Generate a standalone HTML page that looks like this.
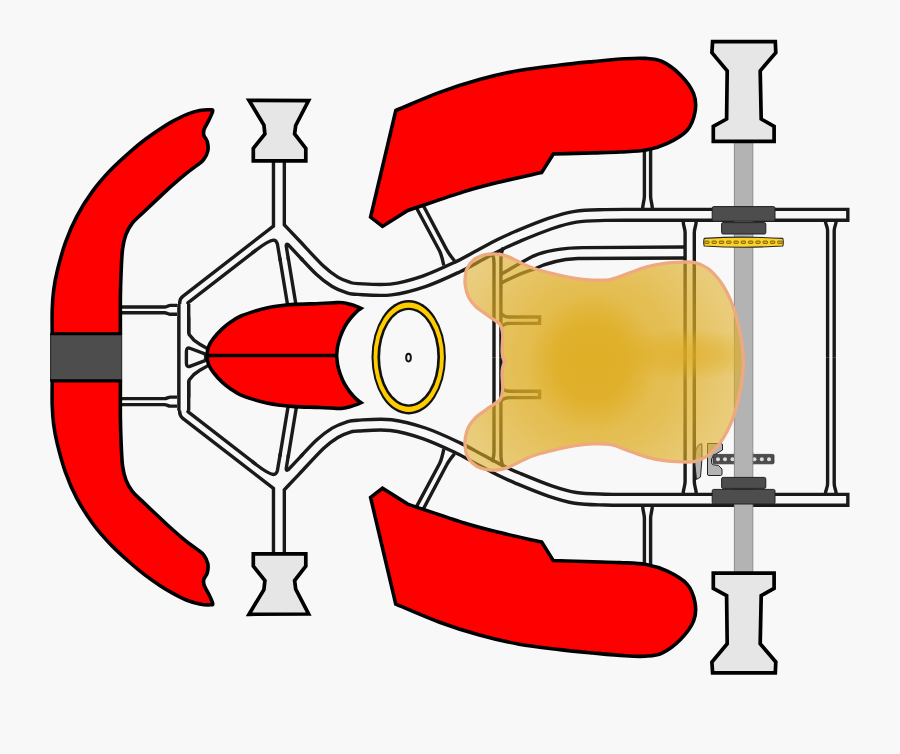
<!DOCTYPE html><html><head><meta charset="utf-8"><style>html,body{margin:0;padding:0;background:#f8f8f8;}svg{display:block}</style></head><body><svg width="900" height="754" viewBox="0 0 900 754"><rect width="900" height="754" fill="#f8f8f8"/><defs><radialGradient id="sg0" gradientUnits="userSpaceOnUse" cx="595" cy="362" r="165"><stop offset="0" stop-color="#dfae25" stop-opacity="0.82"/><stop offset="0.48" stop-color="#dfae25" stop-opacity="0.78"/><stop offset="0.85" stop-color="#dfae25" stop-opacity="0.6"/><stop offset="1" stop-color="#dfae25" stop-opacity="0.55"/></radialGradient><radialGradient id="sg1" gradientUnits="userSpaceOnUse" cx="592" cy="362.5" r="70" gradientTransform="translate(592 362.5) scale(1 1.08) translate(-592 -362.5)"><stop offset="0" stop-color="#dfae25" stop-opacity="0.94"/><stop offset="0.5" stop-color="#dfae25" stop-opacity="0.83"/><stop offset="0.74" stop-color="#dfae25" stop-opacity="0.4"/><stop offset="0.93" stop-color="#dfae25" stop-opacity="0.05"/><stop offset="1" stop-color="#dfae25" stop-opacity="0"/></radialGradient><radialGradient id="sg2" gradientUnits="userSpaceOnUse" cx="684" cy="354.5" r="78" gradientTransform="translate(684 354.5) scale(1 0.34) translate(-684 -354.5)"><stop offset="0" stop-color="#dfae25" stop-opacity="0.66"/><stop offset="0.5" stop-color="#dfae25" stop-opacity="0.42"/><stop offset="1" stop-color="#dfae25" stop-opacity="0"/></radialGradient></defs><g fill="none" stroke="#1a1a1a" stroke-linejoin="miter" stroke-miterlimit="10" stroke-linecap="square"><path d="M278.9,158 L278.9,227.2 L185.35,299.6 A4,4 0 0 0 183.8,302.76 L183.8,308" stroke-width="11.7"/><path d="M278.9,158 L278.90,227.00C284.27,232.67 288.15,236.78 295.00,244.00C301.85,251.22 313.33,264.00 320.00,270.30C326.67,276.60 330.33,278.95 335.00,281.80C339.67,284.65 344.17,286.20 348.00,287.40C351.83,288.60 350.83,288.65 358.00,289.00C365.17,289.35 379.93,290.80 391.00,289.50C402.07,288.20 413.27,284.98 424.40,281.20C435.53,277.42 448.53,271.17 457.80,266.80C467.07,262.43 472.97,258.73 480.00,255.00C487.03,251.27 493.70,247.52 500.00,244.40C506.30,241.28 509.47,239.77 517.80,236.30C526.13,232.83 540.37,226.87 550.00,223.60C559.63,220.33 566.43,218.13 575.60,216.70C584.77,215.27 594.27,215.32 605.00,215.00C615.73,214.68 628.33,214.87 640.00,214.80L842.40,214.80" stroke-width="14.25"/><path d="M278.9,227 L291.8,305" stroke-width="11.7"/><g transform="matrix(1 0 0 -1 0 714.60)"><path d="M278.9,158 L278.9,227.2 L185.35,299.6 A4,4 0 0 0 183.8,302.76 L183.8,308" stroke-width="11.7"/><path d="M278.9,158 L278.90,227.00C284.27,232.67 288.15,236.78 295.00,244.00C301.85,251.22 313.33,264.00 320.00,270.30C326.67,276.60 330.33,278.95 335.00,281.80C339.67,284.65 344.17,286.20 348.00,287.40C351.83,288.60 350.83,288.65 358.00,289.00C365.17,289.35 379.93,290.80 391.00,289.50C402.07,288.20 413.27,284.98 424.40,281.20C435.53,277.42 448.53,271.17 457.80,266.80C467.07,262.43 472.97,258.73 480.00,255.00C487.03,251.27 493.70,247.52 500.00,244.40C506.30,241.28 509.47,239.77 517.80,236.30C526.13,232.83 540.37,226.87 550.00,223.60C559.63,220.33 566.43,218.13 575.60,216.70C584.77,215.27 594.27,215.32 605.00,215.00C615.73,214.68 628.33,214.87 640.00,214.80L842.40,214.80" stroke-width="14.25"/><path d="M278.9,227 L291.8,305" stroke-width="11.7"/></g></g><g fill="none" stroke="#1a1a1a"><path d="M183.8,304 L183.8,357.3" stroke-width="13.2"/><g transform="matrix(1 0 0 -1 0 714.60)"><path d="M183.8,304 L183.8,357.3" stroke-width="13.2"/></g></g><path d="M181.00,318.00 L187.00,318.00 L187.00,333.00 L187.70,335.60 L189.50,337.60 L192.90,341.50 L199.00,345.80 L205.90,349.70 L210.00,352.00 L210.00,357.30 L210.00,362.60 L205.90,364.90 L199.00,368.80 L192.90,373.10 L189.50,377.00 L187.70,379.00 L187.00,381.60 L187.00,396.60 L181.00,396.60Z" fill="#1a1a1a" stroke="#1a1a1a" stroke-width="6.8" stroke-linejoin="round"/><g fill="none" stroke="#f8f8f8" stroke-linejoin="miter" stroke-miterlimit="10" stroke-linecap="square"><path d="M278.9,158 L278.9,227.2 L185.35,299.6 A4,4 0 0 0 183.8,302.76 L183.8,308" stroke-width="4.9"/><path d="M278.9,158 L278.90,227.00C284.27,232.67 288.15,236.78 295.00,244.00C301.85,251.22 313.33,264.00 320.00,270.30C326.67,276.60 330.33,278.95 335.00,281.80C339.67,284.65 344.17,286.20 348.00,287.40C351.83,288.60 350.83,288.65 358.00,289.00C365.17,289.35 379.93,290.80 391.00,289.50C402.07,288.20 413.27,284.98 424.40,281.20C435.53,277.42 448.53,271.17 457.80,266.80C467.07,262.43 472.97,258.73 480.00,255.00C487.03,251.27 493.70,247.52 500.00,244.40C506.30,241.28 509.47,239.77 517.80,236.30C526.13,232.83 540.37,226.87 550.00,223.60C559.63,220.33 566.43,218.13 575.60,216.70C584.77,215.27 594.27,215.32 605.00,215.00C615.73,214.68 628.33,214.87 640.00,214.80L842.40,214.80" stroke-width="7.45"/><path d="M278.9,227 L291.8,305" stroke-width="4.9"/><g transform="matrix(1 0 0 -1 0 714.60)"><path d="M278.9,158 L278.9,227.2 L185.35,299.6 A4,4 0 0 0 183.8,302.76 L183.8,308" stroke-width="4.9"/><path d="M278.9,158 L278.90,227.00C284.27,232.67 288.15,236.78 295.00,244.00C301.85,251.22 313.33,264.00 320.00,270.30C326.67,276.60 330.33,278.95 335.00,281.80C339.67,284.65 344.17,286.20 348.00,287.40C351.83,288.60 350.83,288.65 358.00,289.00C365.17,289.35 379.93,290.80 391.00,289.50C402.07,288.20 413.27,284.98 424.40,281.20C435.53,277.42 448.53,271.17 457.80,266.80C467.07,262.43 472.97,258.73 480.00,255.00C487.03,251.27 493.70,247.52 500.00,244.40C506.30,241.28 509.47,239.77 517.80,236.30C526.13,232.83 540.37,226.87 550.00,223.60C559.63,220.33 566.43,218.13 575.60,216.70C584.77,215.27 594.27,215.32 605.00,215.00C615.73,214.68 628.33,214.87 640.00,214.80L842.40,214.80" stroke-width="7.45"/><path d="M278.9,227 L291.8,305" stroke-width="4.9"/></g></g><g fill="none" stroke="#f8f8f8"><path d="M183.8,304 L183.8,357.3" stroke-width="6.4"/><g transform="matrix(1 0 0 -1 0 714.60)"><path d="M183.8,304 L183.8,357.3" stroke-width="6.4"/></g></g><path d="M181.00,318.00 L187.00,318.00 L187.00,333.00 L187.70,335.60 L189.50,337.60 L192.90,341.50 L199.00,345.80 L205.90,349.70 L210.00,352.00 L210.00,357.30 L210.00,362.60 L205.90,364.90 L199.00,368.80 L192.90,373.10 L189.50,377.00 L187.70,379.00 L187.00,381.60 L187.00,396.60 L181.00,396.60Z" fill="#f8f8f8"/><g fill="none" stroke="#f8f8f8" stroke-width="5.2" stroke-linejoin="miter" stroke-miterlimit="10"><path d="M256,250.1 L275.95,234.7 L279.8,258" /><path d="M288,257 L285.55,242 L300.5,257.9" /><g transform="matrix(1 0 0 -1 0 714.60)"><path d="M256,250.1 L275.95,234.7 L279.8,258" /><path d="M288,257 L285.55,242 L300.5,257.9" /></g></g><g fill="none" stroke="#1a1a1a" stroke-width="3.4"><path d="M252,253.2 L256,250.1 C264,244 269.5,240.3 273.4,240.1 C275.8,240.0 276.8,241.8 277.4,244.0 L280.3,261" /><path d="M288.5,260 L286.3,246.5 C285.9,243.8 287.6,243.3 289.8,246.5 L303,260.5" /><g transform="matrix(1 0 0 -1 0 714.60)"><path d="M252,253.2 L256,250.1 C264,244 269.5,240.3 273.4,240.1 C275.8,240.0 276.8,241.8 277.4,244.0 L280.3,261" /><path d="M288.5,260 L286.3,246.5 C285.9,243.8 287.6,243.3 289.8,246.5 L303,260.5" /></g></g><path d="M190.5,348.5 L205.0,354.0 Q207.0,357.3 205.0,360.6 L190.5,366.1 Q186.4,367.7 186.4,363.3 L186.4,351.3 Q186.4,346.9 190.5,348.5Z" fill="#f8f8f8" stroke="#1a1a1a" stroke-width="3.4"/><g fill="none" stroke="#1a1a1a" stroke-width="3.4"><path d="M416,207 L439.6,251.0 C441.5,255 442.5,259 443.8,265.5"/><path d="M422.5,204 L446.6,249.6 C448.5,253.5 451,256.5 454.5,260.8"/><path d="M644.4,148 L644.4,196 C644.4,201 642.6,204 642.6,209.5"/><path d="M650.6,148 L650.6,196 C650.6,201 652.4,204 652.4,209.5"/><path d="M825.4,220.5 C825.4,225 827.6,226 827.6,231 L827.6,357.3"/><path d="M836.2,220.5 C836.2,225 834.2,226 834.2,231 L834.2,357.3"/><path d="M683.2,221 C683.2,226 685.1,228 685.1,233 L685.1,357.3"/><path d="M696.2,221 C696.2,226 694.3,228 694.3,233 L694.3,357.3"/><path d="M491.6,252.8 C493.8,256 494.0,258 494.0,263 L494.0,357.3"/><path d="M503.2,247.8 C501.2,252 500.9,255 500.9,261 L500.9,357.3"/><path d="M500.9,313.8 C503.5,316.2 505.5,317.0 509,317.0 L539.6,317.0 L539.6,323.4 L509,323.4 C505.5,323.4 503.5,324.4 500.9,326.8"/><g transform="matrix(1 0 0 -1 0 714.60)"><path d="M416,207 L439.6,251.0 C441.5,255 442.5,259 443.8,265.5"/><path d="M422.5,204 L446.6,249.6 C448.5,253.5 451,256.5 454.5,260.8"/><path d="M644.4,148 L644.4,196 C644.4,201 642.6,204 642.6,209.5"/><path d="M650.6,148 L650.6,196 C650.6,201 652.4,204 652.4,209.5"/><path d="M825.4,220.5 C825.4,225 827.6,226 827.6,231 L827.6,357.3"/><path d="M836.2,220.5 C836.2,225 834.2,226 834.2,231 L834.2,357.3"/><path d="M683.2,221 C683.2,226 685.1,228 685.1,233 L685.1,357.3"/><path d="M696.2,221 C696.2,226 694.3,228 694.3,233 L694.3,357.3"/><path d="M491.6,252.8 C493.8,256 494.0,258 494.0,263 L494.0,357.3"/><path d="M503.2,247.8 C501.2,252 500.9,255 500.9,261 L500.9,357.3"/><path d="M500.9,313.8 C503.5,316.2 505.5,317.0 509,317.0 L539.6,317.0 L539.6,323.4 L509,323.4 C505.5,323.4 503.5,324.4 500.9,326.8"/></g><path d="M119,307.0 L164.5,307.0 C167,307.0 168,305.4 170.5,305.4 L177.0,305.4"/><path d="M119,312.8 L164.5,312.8 C167,312.8 168,314.3 170.5,314.3 L177.0,314.3"/><path d="M119,404.6 L164.5,404.6 C167,404.6 168,406.1 170.5,406.1 L177.0,406.1"/><path d="M119,398.6 L164.5,398.6 C167,398.6 168,397.1 170.5,397.1 L177.0,397.1"/><path d="M500.9,274.4 C512,268 522,262 533.3,256.1 C545,250.6 560,248.0 583.3,247.6 L684.6,247.0"/><path d="M500.9,283.2 C513,277 524,272 533.3,269.4 C545,263.5 560,259.3 577.8,258.5 L684.6,258.0"/></g><rect x="734.4" y="140" width="18.4" height="435" fill="#b3b3b3" stroke="#8c8c8c" stroke-width="1"/><path d="M52.20,334.00C52.20,325.93 51.95,317.15 52.20,309.80C52.45,302.45 52.82,296.53 53.70,289.90C54.58,283.27 55.53,277.93 57.50,270.00C59.47,262.07 62.32,251.17 65.50,242.30C68.68,233.43 72.10,225.28 76.60,216.80C81.10,208.32 86.67,199.35 92.50,191.40C98.33,183.45 104.80,176.15 111.60,169.10C118.40,162.05 127.48,154.20 133.30,149.10C139.12,144.00 142.08,141.82 146.50,138.50C150.92,135.18 155.38,132.08 159.80,129.20C164.22,126.32 168.58,123.63 173.00,121.20C177.42,118.77 181.87,116.37 186.30,114.60C190.73,112.83 195.57,111.40 199.60,110.60C203.63,109.80 208.33,109.65 210.50,109.80C212.67,109.95 212.98,109.55 212.60,111.50C212.22,113.45 209.60,118.55 208.20,121.50C206.80,124.45 204.93,126.93 204.20,129.20C203.47,131.47 203.28,133.00 203.80,135.10C204.32,137.20 206.63,139.15 207.30,141.80C207.97,144.45 208.42,148.02 207.80,151.00C207.18,153.98 205.37,157.33 203.60,159.70C201.83,162.07 200.08,162.93 197.20,165.20C194.32,167.47 190.33,170.07 186.30,173.30C182.27,176.53 177.38,180.72 173.00,184.60C168.62,188.48 165.18,191.75 160.00,196.60C154.82,201.45 146.52,209.27 141.90,213.70C137.28,218.13 134.95,219.75 132.30,223.20C129.65,226.65 127.62,230.15 126.00,234.40C124.38,238.65 123.40,242.77 122.60,248.70C121.80,254.63 121.57,262.03 121.20,270.00C120.83,277.97 120.53,285.83 120.40,296.50C120.27,307.17 120.40,321.50 120.40,334.00L52.20,334.00Z" fill="#ff0000" stroke="#000" stroke-width="3.6" stroke-linejoin="round"/><path d="M52.20,334.00C52.20,325.93 51.95,317.15 52.20,309.80C52.45,302.45 52.82,296.53 53.70,289.90C54.58,283.27 55.53,277.93 57.50,270.00C59.47,262.07 62.32,251.17 65.50,242.30C68.68,233.43 72.10,225.28 76.60,216.80C81.10,208.32 86.67,199.35 92.50,191.40C98.33,183.45 104.80,176.15 111.60,169.10C118.40,162.05 127.48,154.20 133.30,149.10C139.12,144.00 142.08,141.82 146.50,138.50C150.92,135.18 155.38,132.08 159.80,129.20C164.22,126.32 168.58,123.63 173.00,121.20C177.42,118.77 181.87,116.37 186.30,114.60C190.73,112.83 195.57,111.40 199.60,110.60C203.63,109.80 208.33,109.65 210.50,109.80C212.67,109.95 212.98,109.55 212.60,111.50C212.22,113.45 209.60,118.55 208.20,121.50C206.80,124.45 204.93,126.93 204.20,129.20C203.47,131.47 203.28,133.00 203.80,135.10C204.32,137.20 206.63,139.15 207.30,141.80C207.97,144.45 208.42,148.02 207.80,151.00C207.18,153.98 205.37,157.33 203.60,159.70C201.83,162.07 200.08,162.93 197.20,165.20C194.32,167.47 190.33,170.07 186.30,173.30C182.27,176.53 177.38,180.72 173.00,184.60C168.62,188.48 165.18,191.75 160.00,196.60C154.82,201.45 146.52,209.27 141.90,213.70C137.28,218.13 134.95,219.75 132.30,223.20C129.65,226.65 127.62,230.15 126.00,234.40C124.38,238.65 123.40,242.77 122.60,248.70C121.80,254.63 121.57,262.03 121.20,270.00C120.83,277.97 120.53,285.83 120.40,296.50C120.27,307.17 120.40,321.50 120.40,334.00L52.20,334.00Z" transform="matrix(1 0 0 -1 0 714.60)" fill="#ff0000" stroke="#000" stroke-width="3.6" stroke-linejoin="round"/><rect x="50.6" y="334.0" width="71.0" height="46.6" fill="#4d4d4d" stroke="#303030" stroke-width="1.2"/><path d="M50.3,334 L121.6,334 M50.3,380.6 L121.6,380.6" stroke="#000" stroke-width="2.6"/><path d="M249.00,100.30 L308.60,100.60 L295.70,125.50 L294.60,134.00 L305.80,148.40 L305.80,160.80 L253.30,160.80 L253.30,148.40 L264.90,134.00 L263.90,125.00Z" fill="#e6e6e6" stroke="#000" stroke-width="3.7" stroke-linejoin="miter"/><path d="M249.00,100.30 L308.60,100.60 L295.70,125.50 L294.60,134.00 L305.80,148.40 L305.80,160.80 L253.30,160.80 L253.30,148.40 L264.90,134.00 L263.90,125.00Z" transform="matrix(1 0 0 -1 0 714.60)" fill="#e6e6e6" stroke="#000" stroke-width="3.7" stroke-linejoin="miter"/><path d="M712.60,41.70 L775.30,41.70 L775.80,52.60 L760.20,70.80 L761.20,119.00 L774.10,126.30 L774.10,141.40 L713.30,141.40 L713.30,126.30 L726.60,119.00 L727.20,70.80 L711.90,52.60Z" fill="#e6e6e6" stroke="#000" stroke-width="3.7" stroke-linejoin="miter"/><path d="M712.60,41.70 L775.30,41.70 L775.80,52.60 L760.20,70.80 L761.20,119.00 L774.10,126.30 L774.10,141.40 L713.30,141.40 L713.30,126.30 L726.60,119.00 L727.20,70.80 L711.90,52.60Z" transform="matrix(1 0 0 -1 0 714.60)" fill="#e6e6e6" stroke="#000" stroke-width="3.7" stroke-linejoin="miter"/><path d="M395.80,110.50C410.40,104.47 425.67,97.55 439.60,92.40C453.53,87.25 466.13,83.27 479.40,79.60C492.67,75.93 505.77,72.83 519.20,70.40C532.63,67.97 547.70,66.47 560.00,65.00C572.30,63.53 582.17,62.63 593.00,61.60C603.83,60.57 616.33,59.33 625.00,58.80C633.67,58.27 638.83,57.95 645.00,58.40C651.17,58.85 656.13,58.77 662.00,61.50C667.87,64.23 674.93,69.43 680.20,74.80C685.47,80.17 691.13,87.50 693.60,93.70C696.07,99.90 696.10,105.87 695.00,112.00C693.90,118.13 691.62,125.27 687.00,130.50C682.38,135.73 674.12,140.13 667.30,143.40C660.48,146.67 653.98,148.67 646.10,150.10C638.22,151.53 628.85,151.53 620.00,152.00C611.15,152.47 604.12,152.57 593.00,152.90C581.88,153.23 566.53,153.63 553.30,154.00L541.70,172.50C527.80,175.67 513.05,178.77 500.00,182.00C486.95,185.23 478.78,187.15 463.40,191.90C448.02,196.65 426.27,204.30 407.70,210.50L382.50,226.40L370.60,217.10L395.80,110.50Z" fill="#ff0000" stroke="#000" stroke-width="3.6" stroke-linejoin="miter"/><path d="M395.80,110.50C410.40,104.47 425.67,97.55 439.60,92.40C453.53,87.25 466.13,83.27 479.40,79.60C492.67,75.93 505.77,72.83 519.20,70.40C532.63,67.97 547.70,66.47 560.00,65.00C572.30,63.53 582.17,62.63 593.00,61.60C603.83,60.57 616.33,59.33 625.00,58.80C633.67,58.27 638.83,57.95 645.00,58.40C651.17,58.85 656.13,58.77 662.00,61.50C667.87,64.23 674.93,69.43 680.20,74.80C685.47,80.17 691.13,87.50 693.60,93.70C696.07,99.90 696.10,105.87 695.00,112.00C693.90,118.13 691.62,125.27 687.00,130.50C682.38,135.73 674.12,140.13 667.30,143.40C660.48,146.67 653.98,148.67 646.10,150.10C638.22,151.53 628.85,151.53 620.00,152.00C611.15,152.47 604.12,152.57 593.00,152.90C581.88,153.23 566.53,153.63 553.30,154.00L541.70,172.50C527.80,175.67 513.05,178.77 500.00,182.00C486.95,185.23 478.78,187.15 463.40,191.90C448.02,196.65 426.27,204.30 407.70,210.50L382.50,226.40L370.60,217.10L395.80,110.50Z" transform="matrix(1 0 0 -1 0 714.60)" fill="#ff0000" stroke="#000" stroke-width="3.6" stroke-linejoin="miter"/><path d="M207.20,355.50C207.20,352.67 207.38,349.80 208.40,347.00C209.42,344.20 211.00,341.72 213.30,338.70C215.60,335.68 219.23,331.72 222.20,328.90C225.17,326.08 228.13,323.88 231.10,321.80C234.07,319.72 236.30,318.10 240.00,316.40C243.70,314.70 248.85,313.00 253.30,311.60C257.75,310.20 262.25,308.97 266.70,308.00C271.15,307.03 275.38,306.40 280.00,305.80C284.62,305.20 287.73,304.78 294.40,304.40C301.07,304.02 312.97,303.80 320.00,303.50C327.03,303.20 332.77,302.73 336.60,302.60C340.43,302.47 340.77,302.42 343.00,302.70C345.23,302.98 347.65,303.65 350.00,304.30C352.35,304.95 355.27,305.93 357.10,306.60C358.93,307.27 359.70,307.73 361.00,308.30C359.53,309.40 358.47,309.78 356.60,311.60C354.73,313.42 351.82,316.62 349.80,319.20C347.78,321.78 346.10,324.13 344.50,327.10C342.90,330.07 341.35,333.77 340.20,337.00C339.05,340.23 338.20,343.42 337.60,346.50C337.00,349.58 336.93,352.50 336.60,355.50C336.93,358.50 337.00,361.42 337.60,364.50C338.20,367.58 339.05,370.77 340.20,374.00C341.35,377.23 342.90,380.93 344.50,383.90C346.10,386.87 347.78,389.22 349.80,391.80C351.82,394.38 354.73,397.58 356.60,399.40C358.47,401.22 359.53,401.60 361.00,402.70C359.70,403.27 358.93,403.73 357.10,404.40C355.27,405.07 352.35,406.05 350.00,406.70C347.65,407.35 345.23,408.02 343.00,408.30C340.77,408.58 340.43,408.53 336.60,408.40C332.77,408.27 327.03,407.80 320.00,407.50C312.97,407.20 301.07,406.98 294.40,406.60C287.73,406.22 284.62,405.80 280.00,405.20C275.38,404.60 271.15,403.97 266.70,403.00C262.25,402.03 257.75,400.80 253.30,399.40C248.85,398.00 243.70,396.30 240.00,394.60C236.30,392.90 234.07,391.28 231.10,389.20C228.13,387.12 225.17,384.92 222.20,382.10C219.23,379.28 215.60,375.32 213.30,372.30C211.00,369.28 209.42,366.80 208.40,364.00C207.38,361.20 207.20,358.33 207.20,355.50Z" fill="#ff0000" stroke="#000" stroke-width="3.6" stroke-linejoin="miter"/><path d="M207.2,355.5 L336.6,355.5" stroke="#000" stroke-width="3.4"/><ellipse cx="408.7" cy="357.2" rx="37.2" ry="57.2" fill="#111"/><ellipse cx="408.7" cy="357.2" rx="35.2" ry="54.7" fill="#ffcc00"/><ellipse cx="408.7" cy="357.2" rx="31.3" ry="49.5" fill="#111"/><ellipse cx="408.7" cy="357.2" rx="28.6" ry="47.2" fill="#f8f8f8"/><ellipse cx="408.5" cy="357.6" rx="3.3" ry="4.8" fill="#111"/><ellipse cx="408.5" cy="357.6" rx="1.4" ry="2.8" fill="#f8f8f8"/><rect x="712.2" y="206.6" width="62.8" height="14.6" rx="1.5" fill="#4d4d4d" stroke="#222" stroke-width="1"/><rect x="721.6" y="222.6" width="44.2" height="11.4" rx="1.5" fill="#4d4d4d" stroke="#222" stroke-width="1"/><rect x="712.2" y="489.4" width="62.8" height="14.6" rx="1.5" fill="#4d4d4d" stroke="#222" stroke-width="1"/><rect x="721.6" y="477.4" width="44.2" height="11.0" rx="1.5" fill="#4d4d4d" stroke="#222" stroke-width="1"/><path d="M704.2,238.4 Q743.5,235.9 782.8,238.4 Q783.8,242.2 782.8,246.0 Q743.5,248.5 704.2,246.0 Q703.2,242.2 704.2,238.4Z" fill="#fcd22c" stroke="#2a2a2a" stroke-width="1.1"/><rect x="704.70" y="241.1" width="4.4" height="2.3" rx="0.6" fill="#e8bd1c" stroke="#6b5500" stroke-width="0.9"/><rect x="712.00" y="241.1" width="4.4" height="2.3" rx="0.6" fill="#e8bd1c" stroke="#6b5500" stroke-width="0.9"/><rect x="719.30" y="241.1" width="4.4" height="2.3" rx="0.6" fill="#e8bd1c" stroke="#6b5500" stroke-width="0.9"/><rect x="726.60" y="241.1" width="4.4" height="2.3" rx="0.6" fill="#e8bd1c" stroke="#6b5500" stroke-width="0.9"/><rect x="733.90" y="241.1" width="4.4" height="2.3" rx="0.6" fill="#e8bd1c" stroke="#6b5500" stroke-width="0.9"/><rect x="741.20" y="241.1" width="4.4" height="2.3" rx="0.6" fill="#e8bd1c" stroke="#6b5500" stroke-width="0.9"/><rect x="748.50" y="241.1" width="4.4" height="2.3" rx="0.6" fill="#e8bd1c" stroke="#6b5500" stroke-width="0.9"/><rect x="755.80" y="241.1" width="4.4" height="2.3" rx="0.6" fill="#e8bd1c" stroke="#6b5500" stroke-width="0.9"/><rect x="763.10" y="241.1" width="4.4" height="2.3" rx="0.6" fill="#e8bd1c" stroke="#6b5500" stroke-width="0.9"/><rect x="770.40" y="241.1" width="4.4" height="2.3" rx="0.6" fill="#e8bd1c" stroke="#6b5500" stroke-width="0.9"/><rect x="777.70" y="241.1" width="4.4" height="2.3" rx="0.6" fill="#e8bd1c" stroke="#6b5500" stroke-width="0.9"/><path d="M707.5,443.5 L721,443.5 Q722.5,443.5 722.5,445 L722.5,450 L713.5,455.5 L711.5,459 L711.5,462.5 Q711.5,464.5 713.5,464.8 L718.5,465.5 L722,469 L722,474 Q722,475.5 720.5,475.5 L709,475.5 Q707.5,475.5 707.5,474 Z" fill="#b3b3b3" stroke="#222" stroke-width="1"/><path d="M699,444.5 L701.8,443.8 L702,458 L700.5,477 L696.5,479.5 L694.8,463 L696,449 Z" fill="#b3b3b3" stroke="#222" stroke-width="1"/><rect x="713.0" y="454.4" width="61.0" height="9.4" rx="1.2" fill="#4d4d4d" stroke="#333" stroke-width="0.8"/><circle cx="718.0" cy="459.3" r="2.0" fill="#dddddd"/><circle cx="725.0" cy="459.3" r="2.0" fill="#dddddd"/><circle cx="732.5" cy="459.3" r="2.0" fill="#dddddd"/><circle cx="754.5" cy="459.3" r="2.0" fill="#dddddd"/><circle cx="761.8" cy="459.3" r="2.0" fill="#dddddd"/><circle cx="769.0" cy="459.3" r="2.0" fill="#dddddd"/><rect x="734.4" y="452" width="18.4" height="13" fill="#b3b3b3"/><path d="M734.4,452 V465 M752.8,452 V465" stroke="#8c8c8c" stroke-width="1"/><path d="M743.40,362.00C743.40,358.00 743.00,354.08 742.60,350.00C742.20,345.92 741.83,342.17 741.00,337.50C740.17,332.83 738.80,326.85 737.60,322.00C736.40,317.15 735.57,313.32 733.80,308.40C732.03,303.48 729.43,297.23 727.00,292.50C724.57,287.77 722.37,284.00 719.20,280.00C716.03,276.00 712.03,271.40 708.00,268.50C703.97,265.60 699.30,263.67 695.00,262.60C690.70,261.53 687.30,261.98 682.20,262.10C677.10,262.22 670.32,262.50 664.40,263.30C658.48,264.10 652.62,265.27 646.70,266.90C640.78,268.53 634.83,271.03 628.90,273.10C622.97,275.17 617.03,278.12 611.10,279.30C605.17,280.48 599.22,280.35 593.30,280.20C587.38,280.05 581.52,279.28 575.60,278.40C569.68,277.52 562.90,276.03 557.80,274.90C552.70,273.77 548.60,272.53 545.00,271.60C541.40,270.67 539.27,270.30 536.20,269.30C533.13,268.30 529.58,266.90 526.60,265.60C523.62,264.30 521.28,262.95 518.30,261.50C515.32,260.05 511.68,258.07 508.70,256.90C505.72,255.73 503.38,254.98 500.40,254.50C497.42,254.02 493.98,253.80 490.80,254.00C487.62,254.20 484.28,254.62 481.30,255.70C478.32,256.78 475.30,258.30 472.90,260.50C470.50,262.70 468.20,265.92 466.90,268.90C465.60,271.88 465.33,275.38 465.10,278.40C464.87,281.42 464.93,283.90 465.50,287.00C466.07,290.10 466.75,293.70 468.50,297.00C470.25,300.30 473.08,303.93 476.00,306.80C478.92,309.67 483.00,312.03 486.00,314.20C489.00,316.37 491.62,318.03 494.00,319.80C496.38,321.57 498.85,322.35 500.30,324.80C501.75,327.25 502.40,330.33 502.70,334.50C503.00,338.67 502.07,345.97 502.10,349.80C502.13,353.63 502.40,355.47 502.90,357.50C503.40,359.53 504.37,360.50 505.10,362.00C504.37,363.50 503.40,364.47 502.90,366.50C502.40,368.53 502.13,370.37 502.10,374.20C502.07,378.03 503.00,385.33 502.70,389.50C502.40,393.67 501.75,396.75 500.30,399.20C498.85,401.65 496.38,402.43 494.00,404.20C491.62,405.97 489.00,407.63 486.00,409.80C483.00,411.97 478.92,414.33 476.00,417.20C473.08,420.07 470.25,423.70 468.50,427.00C466.75,430.30 466.07,433.90 465.50,437.00C464.93,440.10 464.87,442.58 465.10,445.60C465.33,448.62 465.60,452.12 466.90,455.10C468.20,458.08 470.50,461.30 472.90,463.50C475.30,465.70 478.32,467.22 481.30,468.30C484.28,469.38 487.62,469.80 490.80,470.00C493.98,470.20 497.42,469.98 500.40,469.50C503.38,469.02 505.72,468.27 508.70,467.10C511.68,465.93 515.32,463.95 518.30,462.50C521.28,461.05 523.62,459.70 526.60,458.40C529.58,457.10 533.13,455.70 536.20,454.70C539.27,453.70 541.40,453.33 545.00,452.40C548.60,451.47 552.70,450.23 557.80,449.10C562.90,447.97 569.68,446.48 575.60,445.60C581.52,444.72 587.38,443.95 593.30,443.80C599.22,443.65 605.17,443.52 611.10,444.70C617.03,445.88 622.97,448.83 628.90,450.90C634.83,452.97 640.78,455.47 646.70,457.10C652.62,458.73 658.48,459.90 664.40,460.70C670.32,461.50 677.10,461.78 682.20,461.90C687.30,462.02 690.70,462.47 695.00,461.40C699.30,460.33 703.97,458.40 708.00,455.50C712.03,452.60 716.03,448.00 719.20,444.00C722.37,440.00 724.57,436.23 727.00,431.50C729.43,426.77 732.03,420.52 733.80,415.60C735.57,410.68 736.40,406.85 737.60,402.00C738.80,397.15 740.17,391.17 741.00,386.50C741.83,381.83 742.20,378.08 742.60,374.00C743.00,369.92 743.40,366.00 743.40,362.00Z" fill="url(#sg0)"/><path d="M743.40,362.00C743.40,358.00 743.00,354.08 742.60,350.00C742.20,345.92 741.83,342.17 741.00,337.50C740.17,332.83 738.80,326.85 737.60,322.00C736.40,317.15 735.57,313.32 733.80,308.40C732.03,303.48 729.43,297.23 727.00,292.50C724.57,287.77 722.37,284.00 719.20,280.00C716.03,276.00 712.03,271.40 708.00,268.50C703.97,265.60 699.30,263.67 695.00,262.60C690.70,261.53 687.30,261.98 682.20,262.10C677.10,262.22 670.32,262.50 664.40,263.30C658.48,264.10 652.62,265.27 646.70,266.90C640.78,268.53 634.83,271.03 628.90,273.10C622.97,275.17 617.03,278.12 611.10,279.30C605.17,280.48 599.22,280.35 593.30,280.20C587.38,280.05 581.52,279.28 575.60,278.40C569.68,277.52 562.90,276.03 557.80,274.90C552.70,273.77 548.60,272.53 545.00,271.60C541.40,270.67 539.27,270.30 536.20,269.30C533.13,268.30 529.58,266.90 526.60,265.60C523.62,264.30 521.28,262.95 518.30,261.50C515.32,260.05 511.68,258.07 508.70,256.90C505.72,255.73 503.38,254.98 500.40,254.50C497.42,254.02 493.98,253.80 490.80,254.00C487.62,254.20 484.28,254.62 481.30,255.70C478.32,256.78 475.30,258.30 472.90,260.50C470.50,262.70 468.20,265.92 466.90,268.90C465.60,271.88 465.33,275.38 465.10,278.40C464.87,281.42 464.93,283.90 465.50,287.00C466.07,290.10 466.75,293.70 468.50,297.00C470.25,300.30 473.08,303.93 476.00,306.80C478.92,309.67 483.00,312.03 486.00,314.20C489.00,316.37 491.62,318.03 494.00,319.80C496.38,321.57 498.85,322.35 500.30,324.80C501.75,327.25 502.40,330.33 502.70,334.50C503.00,338.67 502.07,345.97 502.10,349.80C502.13,353.63 502.40,355.47 502.90,357.50C503.40,359.53 504.37,360.50 505.10,362.00C504.37,363.50 503.40,364.47 502.90,366.50C502.40,368.53 502.13,370.37 502.10,374.20C502.07,378.03 503.00,385.33 502.70,389.50C502.40,393.67 501.75,396.75 500.30,399.20C498.85,401.65 496.38,402.43 494.00,404.20C491.62,405.97 489.00,407.63 486.00,409.80C483.00,411.97 478.92,414.33 476.00,417.20C473.08,420.07 470.25,423.70 468.50,427.00C466.75,430.30 466.07,433.90 465.50,437.00C464.93,440.10 464.87,442.58 465.10,445.60C465.33,448.62 465.60,452.12 466.90,455.10C468.20,458.08 470.50,461.30 472.90,463.50C475.30,465.70 478.32,467.22 481.30,468.30C484.28,469.38 487.62,469.80 490.80,470.00C493.98,470.20 497.42,469.98 500.40,469.50C503.38,469.02 505.72,468.27 508.70,467.10C511.68,465.93 515.32,463.95 518.30,462.50C521.28,461.05 523.62,459.70 526.60,458.40C529.58,457.10 533.13,455.70 536.20,454.70C539.27,453.70 541.40,453.33 545.00,452.40C548.60,451.47 552.70,450.23 557.80,449.10C562.90,447.97 569.68,446.48 575.60,445.60C581.52,444.72 587.38,443.95 593.30,443.80C599.22,443.65 605.17,443.52 611.10,444.70C617.03,445.88 622.97,448.83 628.90,450.90C634.83,452.97 640.78,455.47 646.70,457.10C652.62,458.73 658.48,459.90 664.40,460.70C670.32,461.50 677.10,461.78 682.20,461.90C687.30,462.02 690.70,462.47 695.00,461.40C699.30,460.33 703.97,458.40 708.00,455.50C712.03,452.60 716.03,448.00 719.20,444.00C722.37,440.00 724.57,436.23 727.00,431.50C729.43,426.77 732.03,420.52 733.80,415.60C735.57,410.68 736.40,406.85 737.60,402.00C738.80,397.15 740.17,391.17 741.00,386.50C741.83,381.83 742.20,378.08 742.60,374.00C743.00,369.92 743.40,366.00 743.40,362.00Z" fill="url(#sg1)"/><path d="M743.40,362.00C743.40,358.00 743.00,354.08 742.60,350.00C742.20,345.92 741.83,342.17 741.00,337.50C740.17,332.83 738.80,326.85 737.60,322.00C736.40,317.15 735.57,313.32 733.80,308.40C732.03,303.48 729.43,297.23 727.00,292.50C724.57,287.77 722.37,284.00 719.20,280.00C716.03,276.00 712.03,271.40 708.00,268.50C703.97,265.60 699.30,263.67 695.00,262.60C690.70,261.53 687.30,261.98 682.20,262.10C677.10,262.22 670.32,262.50 664.40,263.30C658.48,264.10 652.62,265.27 646.70,266.90C640.78,268.53 634.83,271.03 628.90,273.10C622.97,275.17 617.03,278.12 611.10,279.30C605.17,280.48 599.22,280.35 593.30,280.20C587.38,280.05 581.52,279.28 575.60,278.40C569.68,277.52 562.90,276.03 557.80,274.90C552.70,273.77 548.60,272.53 545.00,271.60C541.40,270.67 539.27,270.30 536.20,269.30C533.13,268.30 529.58,266.90 526.60,265.60C523.62,264.30 521.28,262.95 518.30,261.50C515.32,260.05 511.68,258.07 508.70,256.90C505.72,255.73 503.38,254.98 500.40,254.50C497.42,254.02 493.98,253.80 490.80,254.00C487.62,254.20 484.28,254.62 481.30,255.70C478.32,256.78 475.30,258.30 472.90,260.50C470.50,262.70 468.20,265.92 466.90,268.90C465.60,271.88 465.33,275.38 465.10,278.40C464.87,281.42 464.93,283.90 465.50,287.00C466.07,290.10 466.75,293.70 468.50,297.00C470.25,300.30 473.08,303.93 476.00,306.80C478.92,309.67 483.00,312.03 486.00,314.20C489.00,316.37 491.62,318.03 494.00,319.80C496.38,321.57 498.85,322.35 500.30,324.80C501.75,327.25 502.40,330.33 502.70,334.50C503.00,338.67 502.07,345.97 502.10,349.80C502.13,353.63 502.40,355.47 502.90,357.50C503.40,359.53 504.37,360.50 505.10,362.00C504.37,363.50 503.40,364.47 502.90,366.50C502.40,368.53 502.13,370.37 502.10,374.20C502.07,378.03 503.00,385.33 502.70,389.50C502.40,393.67 501.75,396.75 500.30,399.20C498.85,401.65 496.38,402.43 494.00,404.20C491.62,405.97 489.00,407.63 486.00,409.80C483.00,411.97 478.92,414.33 476.00,417.20C473.08,420.07 470.25,423.70 468.50,427.00C466.75,430.30 466.07,433.90 465.50,437.00C464.93,440.10 464.87,442.58 465.10,445.60C465.33,448.62 465.60,452.12 466.90,455.10C468.20,458.08 470.50,461.30 472.90,463.50C475.30,465.70 478.32,467.22 481.30,468.30C484.28,469.38 487.62,469.80 490.80,470.00C493.98,470.20 497.42,469.98 500.40,469.50C503.38,469.02 505.72,468.27 508.70,467.10C511.68,465.93 515.32,463.95 518.30,462.50C521.28,461.05 523.62,459.70 526.60,458.40C529.58,457.10 533.13,455.70 536.20,454.70C539.27,453.70 541.40,453.33 545.00,452.40C548.60,451.47 552.70,450.23 557.80,449.10C562.90,447.97 569.68,446.48 575.60,445.60C581.52,444.72 587.38,443.95 593.30,443.80C599.22,443.65 605.17,443.52 611.10,444.70C617.03,445.88 622.97,448.83 628.90,450.90C634.83,452.97 640.78,455.47 646.70,457.10C652.62,458.73 658.48,459.90 664.40,460.70C670.32,461.50 677.10,461.78 682.20,461.90C687.30,462.02 690.70,462.47 695.00,461.40C699.30,460.33 703.97,458.40 708.00,455.50C712.03,452.60 716.03,448.00 719.20,444.00C722.37,440.00 724.57,436.23 727.00,431.50C729.43,426.77 732.03,420.52 733.80,415.60C735.57,410.68 736.40,406.85 737.60,402.00C738.80,397.15 740.17,391.17 741.00,386.50C741.83,381.83 742.20,378.08 742.60,374.00C743.00,369.92 743.40,366.00 743.40,362.00Z" fill="url(#sg2)"/><path d="M743.40,362.00C743.40,358.00 743.00,354.08 742.60,350.00C742.20,345.92 741.83,342.17 741.00,337.50C740.17,332.83 738.80,326.85 737.60,322.00C736.40,317.15 735.57,313.32 733.80,308.40C732.03,303.48 729.43,297.23 727.00,292.50C724.57,287.77 722.37,284.00 719.20,280.00C716.03,276.00 712.03,271.40 708.00,268.50C703.97,265.60 699.30,263.67 695.00,262.60C690.70,261.53 687.30,261.98 682.20,262.10C677.10,262.22 670.32,262.50 664.40,263.30C658.48,264.10 652.62,265.27 646.70,266.90C640.78,268.53 634.83,271.03 628.90,273.10C622.97,275.17 617.03,278.12 611.10,279.30C605.17,280.48 599.22,280.35 593.30,280.20C587.38,280.05 581.52,279.28 575.60,278.40C569.68,277.52 562.90,276.03 557.80,274.90C552.70,273.77 548.60,272.53 545.00,271.60C541.40,270.67 539.27,270.30 536.20,269.30C533.13,268.30 529.58,266.90 526.60,265.60C523.62,264.30 521.28,262.95 518.30,261.50C515.32,260.05 511.68,258.07 508.70,256.90C505.72,255.73 503.38,254.98 500.40,254.50C497.42,254.02 493.98,253.80 490.80,254.00C487.62,254.20 484.28,254.62 481.30,255.70C478.32,256.78 475.30,258.30 472.90,260.50C470.50,262.70 468.20,265.92 466.90,268.90C465.60,271.88 465.33,275.38 465.10,278.40C464.87,281.42 464.93,283.90 465.50,287.00C466.07,290.10 466.75,293.70 468.50,297.00C470.25,300.30 473.08,303.93 476.00,306.80C478.92,309.67 483.00,312.03 486.00,314.20C489.00,316.37 491.62,318.03 494.00,319.80C496.38,321.57 498.85,322.35 500.30,324.80C501.75,327.25 502.40,330.33 502.70,334.50C503.00,338.67 502.07,345.97 502.10,349.80C502.13,353.63 502.40,355.47 502.90,357.50C503.40,359.53 504.37,360.50 505.10,362.00C504.37,363.50 503.40,364.47 502.90,366.50C502.40,368.53 502.13,370.37 502.10,374.20C502.07,378.03 503.00,385.33 502.70,389.50C502.40,393.67 501.75,396.75 500.30,399.20C498.85,401.65 496.38,402.43 494.00,404.20C491.62,405.97 489.00,407.63 486.00,409.80C483.00,411.97 478.92,414.33 476.00,417.20C473.08,420.07 470.25,423.70 468.50,427.00C466.75,430.30 466.07,433.90 465.50,437.00C464.93,440.10 464.87,442.58 465.10,445.60C465.33,448.62 465.60,452.12 466.90,455.10C468.20,458.08 470.50,461.30 472.90,463.50C475.30,465.70 478.32,467.22 481.30,468.30C484.28,469.38 487.62,469.80 490.80,470.00C493.98,470.20 497.42,469.98 500.40,469.50C503.38,469.02 505.72,468.27 508.70,467.10C511.68,465.93 515.32,463.95 518.30,462.50C521.28,461.05 523.62,459.70 526.60,458.40C529.58,457.10 533.13,455.70 536.20,454.70C539.27,453.70 541.40,453.33 545.00,452.40C548.60,451.47 552.70,450.23 557.80,449.10C562.90,447.97 569.68,446.48 575.60,445.60C581.52,444.72 587.38,443.95 593.30,443.80C599.22,443.65 605.17,443.52 611.10,444.70C617.03,445.88 622.97,448.83 628.90,450.90C634.83,452.97 640.78,455.47 646.70,457.10C652.62,458.73 658.48,459.90 664.40,460.70C670.32,461.50 677.10,461.78 682.20,461.90C687.30,462.02 690.70,462.47 695.00,461.40C699.30,460.33 703.97,458.40 708.00,455.50C712.03,452.60 716.03,448.00 719.20,444.00C722.37,440.00 724.57,436.23 727.00,431.50C729.43,426.77 732.03,420.52 733.80,415.60C735.57,410.68 736.40,406.85 737.60,402.00C738.80,397.15 740.17,391.17 741.00,386.50C741.83,381.83 742.20,378.08 742.60,374.00C743.00,369.92 743.40,366.00 743.40,362.00Z" fill="none" stroke="#eeaa7e" stroke-width="3.3"/></svg></body></html>
